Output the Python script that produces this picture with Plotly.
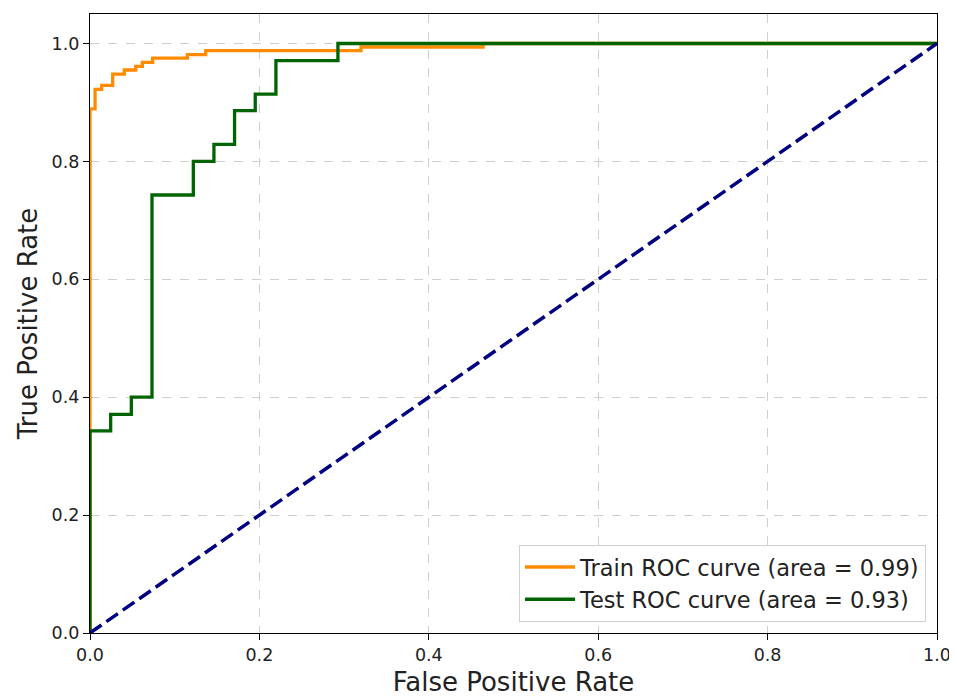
import plotly.graph_objects as go

# Train ROC curve (step points)
train_fpr = [0.0, 0.0, 0.0, 0.006, 0.006, 0.0138, 0.0138, 0.0268, 0.0268, 0.0405, 0.0405,
             0.054, 0.054, 0.0618, 0.0618, 0.074, 0.074, 0.115, 0.115, 0.1366, 0.1366,
             0.32, 0.32, 0.464, 0.464, 1.0]
train_tpr = [0.0, 0.0, 0.889, 0.889, 0.922, 0.922, 0.929, 0.929, 0.948, 0.948, 0.955,
             0.955, 0.961, 0.961, 0.968, 0.968, 0.975, 0.975, 0.981, 0.981, 0.988,
             0.988, 0.994, 0.994, 1.0, 1.0]

# Test ROC curve (step points)
test_fpr = [0.0, 0.0, 0.0244, 0.0244, 0.0488, 0.0488, 0.0732, 0.0732, 0.122, 0.122,
            0.1463, 0.1463, 0.1707, 0.1707, 0.1951, 0.1951, 0.2195, 0.2195, 0.2927, 0.2927, 1.0]
test_tpr = [0.0, 0.343, 0.343, 0.371, 0.371, 0.400, 0.400, 0.743, 0.743, 0.800,
            0.800, 0.829, 0.829, 0.886, 0.886, 0.914, 0.914, 0.971, 0.971, 1.0, 1.0]

diag = [0.0, 1.0]

train_label = "Train ROC curve (area = 0.99)"
test_label = "Test ROC curve (area = 0.93)"

fig = go.Figure()
fig.add_trace(go.Scatter(x=train_fpr, y=train_tpr, mode="lines", name=train_label,
                         line=dict(color="#ff8c00", width=3.3)))
fig.add_trace(go.Scatter(x=test_fpr, y=test_tpr, mode="lines", name=test_label,
                         line=dict(color="#006400", width=3.3)))
fig.add_trace(go.Scatter(x=diag, y=diag, mode="lines", showlegend=False,
                         line=dict(color="#000080", width=3.5, dash="14px,6px")))

axis_common = dict(
    showline=True, linecolor="black", linewidth=1.3, mirror=True,
    ticks="outside", ticklen=6, tickcolor="black", tickwidth=1.3,
    showgrid=True, gridcolor="#cfcfcf", griddash="dash", gridwidth=1,
    zeroline=False, tickfont=dict(family="DejaVu Sans", size=17.5, color="#222222"),
    tickformat=".1f", dtick=0.2,
)

fig.update_layout(
    width=949, height=692,
    margin=dict(l=82, r=20, t=6, b=67),
    plot_bgcolor="white", paper_bgcolor="white",
    font=dict(family="DejaVu Sans", color="#222222"),
    xaxis=dict(range=[0, 1.0], title=dict(text="False Positive Rate",
               font=dict(size=26), standoff=8), **axis_common),
    yaxis=dict(range=[0, 1.05], title=dict(text="True Positive Rate",
               font=dict(size=26), standoff=6), **axis_common),
    legend=dict(x=0.987, y=0.018, xanchor="right", yanchor="bottom",
                bgcolor="white", bordercolor="#d0d0d0", borderwidth=1,
                font=dict(size=22.5, family="DejaVu Sans", color="#222222"),
                itemwidth=50, tracegroupgap=0),
)

fig.write_html("out.html")
